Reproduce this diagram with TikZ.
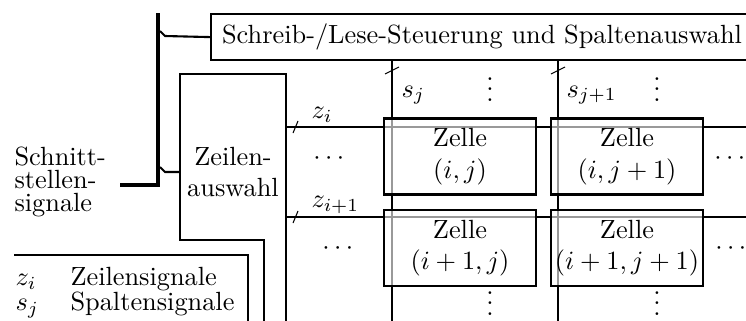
\documentclass[tikz,border=0pt]{standalone}
\usepackage{amsmath}
\newcommand{\vdts}{\vbox{\baselineskip4pt\lineskiplimit0pt\hbox{.}\hbox{.}\hbox{.}}}
\begin{document}
\begin{tikzpicture}[x=0.38pt,y=0.38pt,yscale=-1,
    box/.style={draw,line width=0.8pt},
    bus/.style={line width=1.5pt},
    tap/.style={line width=0.8pt},
    sig/.style={line width=0.4pt},
    cell/.style={box,fill=white,fill opacity=0.6,text opacity=1,
      minimum width=57.8pt,minimum height=28.9pt,align=center,inner sep=0pt},
    lbl/.style={anchor=base west,inner sep=0pt},
    dts/.style={anchor=base,inner sep=0pt}]
\useasboundingbox (0,0) rectangle (746,320);

% Bus
\coordinate (bus-top) at (158,13);
\coordinate (bus-corner) at (158,185);
\coordinate (bus-in) at (120,185);
\draw [bus] (bus-top) -- (bus-corner) -- (bus-in);

% Text Node
\node [align=left,anchor=west,inner sep=0pt] (ifsig) at (14,182) {Schnitt-\\[-3.4pt]stellen-\\[-3.4pt]signale};

% Schreib-/Lese-Steuerung
\node [box,anchor=north west,minimum height=17.5pt,inner xsep=4.2pt] (ctrl) at (210,13) {Schreib-/Lese-Steuerung und Spaltenauswahl};

% Zeilenauswahl
\draw [box] (264,330) -- (264,240) -- (180,240) -- (180,74) -- (286,74) -- (286,330);
\node [align=center] (rowsel) at (233,172) {Zeilen-\\auswahl};
\coordinate (rowsel-in) at (180,172);

% Abzweige vom Bus
\coordinate (ctrl-tap) at (160,31);
\coordinate (rowsel-tap) at (160,167);
\draw [tap] (ctrl-tap) -- ++(5,5) -- (ctrl.west);
\draw [tap] (rowsel-tap) -- ++(5,5) -- (rowsel-in);

% Zeilen- und Spaltenleitungen
\coordinate (zi-l) at (286,127);
\coordinate (zi-r) at (760,127);
\coordinate (zk-l) at (286,217);
\coordinate (zk-r) at (760,217);
\coordinate (sj-t) at (392,59);
\coordinate (sj-b) at (392,330);
\coordinate (sk-t) at (558,59);
\coordinate (sk-b) at (558,330);
\draw [sig] (zi-l) -- (zi-r);
\draw [sig] (zk-l) -- (zk-r);
\draw [sig] (sj-t) -- (sj-b);
\draw [sig] (sk-t) -- (sk-b);

% Striche
\draw [sig] (295.5,127) ++(-2.5,6) -- ++(5,-12);
\draw [sig] (295.5,217) ++(-2.5,6) -- ++(5,-12);
\draw [sig] (392,70.5) ++(-7,3.5) -- ++(14,-7);
\draw [sig] (558,70.5) ++(-7,3.5) -- ++(14,-7);

% Text Node
\node [lbl] (zi) at (311,118.5) {$z_i$};
\node [lbl] (zk) at (311,207.5) {$z_{i+1}$};
\node [lbl] (sj) at (401,97) {$s_j$};
\node [lbl] (sk) at (566,97) {$s_{j+1}$};

% Zellen
\node [cell] (c11) at (460,156.5) {Zelle\\$(i,j)$};
\node [cell] (c12) at (627,156.5) {Zelle\\$(i,j+1)$};
\node [cell] (c21) at (460,248) {Zelle\\$(i+1,j)$};
\node [cell] (c22) at (627,248) {Zelle\\$(i+1,j+1)$};

% Punkte
\node [dts] (vd1) at (490,101.5) {\vdts};
\node [dts] (vd2) at (657,101.5) {\vdts};
\node [dts] (vd3) at (490,315.5) {\vdts};
\node [dts] (vd4) at (657,315.5) {\vdts};
\node [dts] (hd1) at (331,164.6) {$\cdots$};
\node [dts] (hd2) at (340,254.6) {$\cdots$};
\node [dts] (hd3) at (732,164.6) {$\cdots$};
\node [dts] (hd4) at (733,254.6) {$\cdots$};

% Legende
\draw [sig] (14,255) -- (248,255) -- (248,330);
\node [lbl] (legend) at (15,285.7) {\renewcommand{\arraystretch}{0.7}%
  \begin{tabular}[t]{@{}ll@{}}$z_i$ & Zeilensignale\\ $s_j$ & Spaltensignale\end{tabular}};
\end{tikzpicture}
\end{document}
